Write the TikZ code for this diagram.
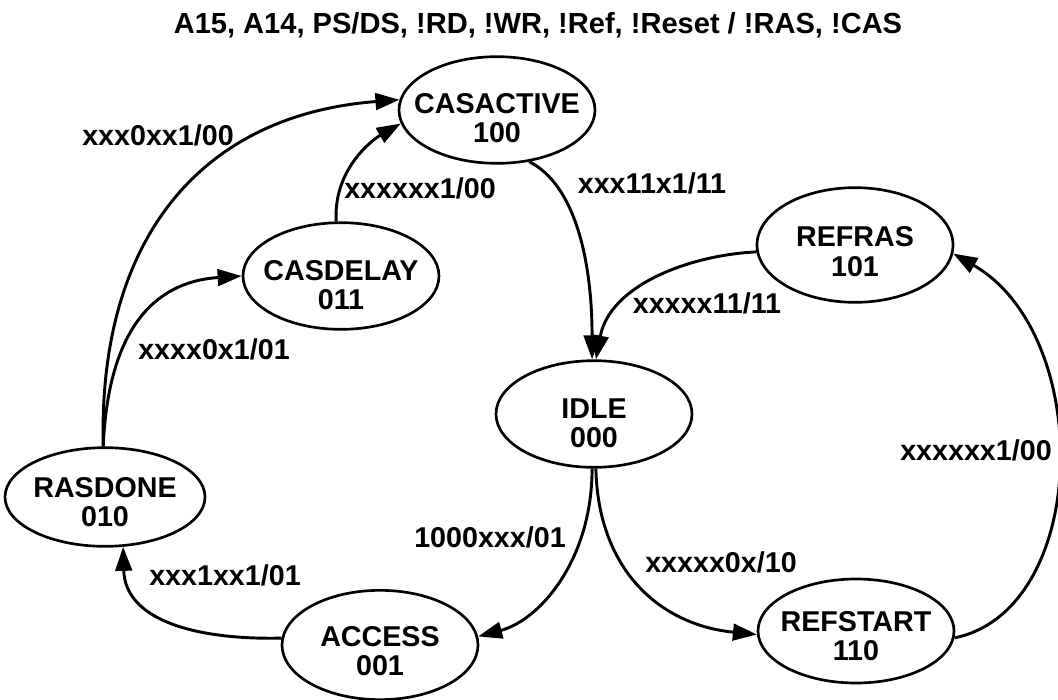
\documentclass[tikz,border=0pt]{standalone}
\usepackage{fontspec}
\setmainfont{Liberation Sans}
\usetikzlibrary{arrows.meta,shapes.geometric}

\tikzset{every picture/.style={line width=2pt}}
\tikzset{
  state/.style={draw,ellipse,line width=2pt,inner sep=0pt,minimum width=147pt,minimum height=80pt},
  statetext/.style={align=center,font=\bfseries\fontsize{21.5}{22}\selectfont},
  lbl/.style={font=\bfseries\fontsize{21.5}{22}\selectfont},
  trans/.style={-{Triangle[length=18pt,width=12.5pt]},line width=2.2pt}
}

\begin{document}
\begin{tikzpicture}[x=0.75pt,y=0.75pt,yscale=-1,xscale=1]
	\useasboundingbox (0,0) rectangle (1058,700);

	% Text Node
	\node[lbl,anchor=base,font=\bfseries\fontsize{21.8}{22}\selectfont] (title) at (538,33) {A15, A14, PS/DS, !RD, !WR, !Ref, !Reset / !RAS, !CAS};

	% States
	\node[state,label={[statetext,yshift=-6pt]center:CASACTIVE\\100}] (casactive) at (497,110) {};
	\node[state,label={[statetext,yshift=-7pt]center:CASDELAY\\011}] (casdelay) at (341,276) {};
	\node[state,minimum height=86pt,label={[statetext,yshift=-5pt]center:REFRAS\\101}] (refras) at (855,245) {};
	\node[state,label={[statetext,yshift=-7pt]center:IDLE\\000}] (idle) at (594,414) {};
	\node[state,minimum width=150pt,minimum height=74pt,label={[statetext,yshift=-4pt]center:RASDONE\\010}] (rasdone) at (105,497) {};
	\node[state,minimum height=82pt,label={[statetext,yshift=-4.5pt]center:ACCESS\\001}] (access) at (380,645) {};
	\node[state,minimum height=78pt,label={[statetext,yshift=-4pt]center:REFSTART\\110}] (refstart) at (856,631) {};

	% Transitions
	\draw[trans] (rasdone.92) .. controls (98,240) and (200,115) .. (casactive.174);
	\draw[trans] (rasdone.92) .. controls (108,335) and (150,282) .. (casdelay.180);
	\draw[trans] (casdelay.95) .. controls (333,170) and (372,140) .. (casactive.188);
	\draw[trans] (casactive.-58) .. controls (575,185) and (592,260) .. (idle.92);
	\draw[trans] (refras.184) .. controls (690,255) and (610,285) .. (idle.88);
	\draw[trans] (refstart.-4) .. controls (1090,610) and (1095,335) .. (refras.-5);
	\draw[trans] (idle.-92) .. controls (592,560) and (540,620) .. (access.5);
	\draw[trans] (idle.-88) .. controls (598,570) and (660,625) .. (refstart.182);
	\draw[trans] (access.176) .. controls (195,640) and (125,620) .. (rasdone.-70);

	% Text Node
	\node[lbl] (l-ras-act) at (158,135) {xxx0xx1/00};
	% Text Node
	\node[lbl] (l-del-act) at (420,188) {xxxxxx1/00};
	% Text Node
	\node[lbl] (l-ras-del) at (214,349) {xxxx0x1/01};
	% Text Node
	\node[lbl] (l-act-idle) at (652,183) {xxx11x1/11};
	% Text Node
	\node[lbl] (l-ref-idle) at (707,303) {xxxxx11/11};
	% Text Node
	\node[lbl] (l-start-ref) at (976,450) {xxxxxx1/00};
	% Text Node
	\node[lbl] (l-idle-acc) at (490,537) {1000xxx/01};
	% Text Node
	\node[lbl] (l-idle-start) at (721,562) {xxxxx0x/10};
	% Text Node
	\node[lbl] (l-acc-ras) at (225,575) {xxx1xx1/01};

\end{tikzpicture}
\end{document}
